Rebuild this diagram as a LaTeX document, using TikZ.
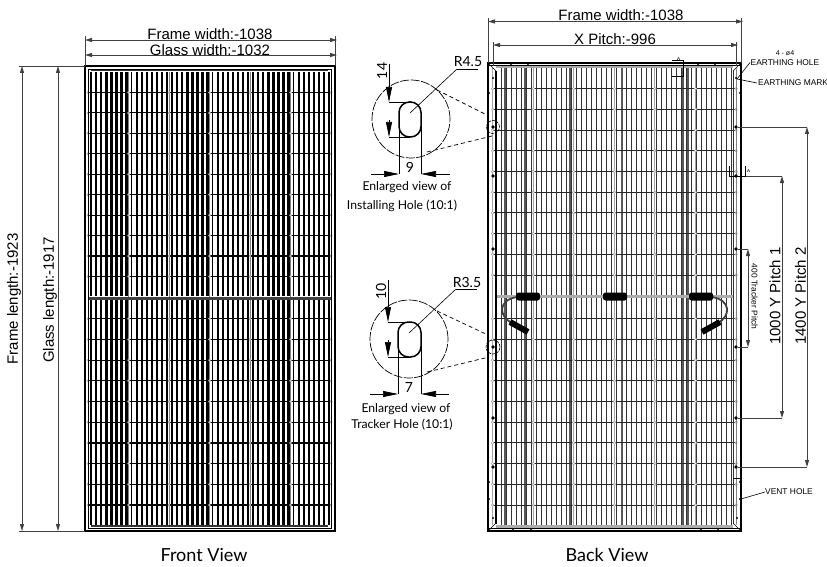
\documentclass[tikz,border=0pt]{standalone}
\usepackage{fontspec}
\setmainfont{Liberation Sans}
\newfontfamily\viewfont{Lato}
\usetikzlibrary{arrows.meta,calc}
\begin{document}
\begin{tikzpicture}[x=1pt,y=-1pt,
dim/.style={line width=0.9pt,black!75,-{Stealth[length=7pt,width=4pt,inset=0pt]}},
dimtwo/.style={line width=0.9pt,black!75,{Stealth[length=7pt,width=4pt,inset=0pt]}-{Stealth[length=7pt,width=4pt,inset=0pt]}},
ext/.style={line width=0.9pt,black!75},
thin line/.style={line width=0.6pt},
big tip/.style={line width=0.7pt,-{Stealth[length=15pt,width=6pt,inset=0pt]}},
txt/.style={inner sep=0pt,font=\fontsize{15}{15}\selectfont},
small txt/.style={inner sep=0pt,anchor=west,font=\fontsize{8.4}{9}\selectfont},
view txt/.style={inner sep=0pt,anchor=base,font=\viewfont\fontsize{18}{18}\selectfont},
note txt/.style={inner sep=0pt,font=\viewfont\fontsize{12.2}{13}\selectfont},
num txt/.style={inner sep=0pt,font=\viewfont\fontsize{14}{14}\selectfont},
hole/.style={circle,fill,inner sep=0pt,minimum size=3.6pt},
knot/.style={circle,draw=gray!70,line width=0.5pt,fill=white,inner sep=0pt,minimum size=2.6pt},
jbox/.style={rounded corners=2.5pt,fill=black,minimum width=24pt,minimum height=8pt,inner sep=0pt},
slot/.style={rounded corners=10.5pt,line width=1.5pt},
zoomring/.style={circle,draw,dashed,dash pattern=on 9pt off 1.5pt,line width=0.7pt,inner sep=0pt},
smallring/.style={circle,draw,dashed,dash pattern=on 3pt off 1pt,line width=0.6pt,inner sep=0pt},
zoomline/.style={dashed,dash pattern=on 4pt off 3pt,line width=0.7pt}]
\useasboundingbox (0,0) rectangle (827,567);

% front view
\foreach \k in {0,...,5}{
  \pgfmathsetmacro{\xo}{88+40.5*\k}
  \pgfmathsetmacro{\wd}{mod(\k,2)==0 ? 2.7 : 1.9}
  \foreach \i in {0,...,7}{
    \draw[line width=\wd pt] (\xo+3+5.05*\i,72) -- (\xo+3+5.05*\i,296);
    \draw[line width=\wd pt] (\xo+3+5.05*\i,300) -- (\xo+3+5.05*\i,525);
  }
}
\foreach \j in {1,...,10}{
  \draw[line width=1.2pt] (88,72+20.45*\j) -- (331,72+20.45*\j);
  \draw[line width=1.2pt] (88,298+20.7*\j) -- (331,298+20.7*\j);
}
\foreach \k in {0,...,6}{
  \draw[line width=0.7pt,gray] (88+40.5*\k,72) -- (88+40.5*\k,525);
  \foreach \j in {1,...,10}{
    \node[knot,minimum size=2pt] (fa\k\j) at (88+40.5*\k,72+20.45*\j) {};
    \node[knot,minimum size=2pt] (fb\k\j) at (88+40.5*\k,298+20.7*\j) {};
  }
}
\draw[line width=2pt,black!80] (91,70.5) -- (328,70.5);
\draw[line width=2pt,black!80] (91,526) -- (328,526);
\draw[line width=3pt,black!75] (88,298) -- (331,298);
\draw[line width=1.3pt] (85,66) rectangle (335,531);
\draw[line width=0.6pt] (88,69) rectangle (331,528);

\coordinate (fl) at (85,40);
\coordinate (fr) at (337,40);
\coordinate (gl) at (85,55);
\coordinate (gr) at (337,55);
\coordinate (ft) at (85,36);
\coordinate (ftr) at (335,36);
\coordinate (fb) at (85,66);
\coordinate (fbr) at (335,66);
\coordinate (hl) at (19,66);
\coordinate (hr) at (85,66);
\coordinate (il) at (19,531);
\coordinate (ir) at (85,531);
\coordinate (a1) at (22,66);
\coordinate (a2) at (22,531);
\coordinate (b1) at (58,66);
\coordinate (b2) at (58,531);
\path[ext] (hl) edge (hr) (il) edge (ir) (ft) edge (fb) (ftr) edge (fbr);
\path[dimtwo] (fl) edge (fr) (gl) edge (gr) (a1) edge (a2) (b1) edge (b2);
\node[txt] (t1) at (210,34.5) {Frame width:-1038};
\node[txt] (t2) at (210,50) {Glass width:-1032};
\node[txt,rotate=90] (t3) at (14,299) {Frame length:-1923};
\node[txt,rotate=90] (t4) at (50,300) {Glass length:-1917};
\node[view txt] (t5) at (204,561) {Front View};

% back view
\foreach \i in {0,...,46}{
  \draw[line width=0.75pt,black!80] (501+5*\i,68) -- (501+5*\i,525);
}
\foreach \x in {505,525,570,622,683,688}{
  \draw[line width=1.3pt,black!65] (\x,68) -- (\x,525);
}
\foreach \j in {1,...,10}{
  \draw[line width=1pt,black!85] (493,68+20.7*\j) -- (736,68+20.7*\j);
  \draw[line width=1pt,black!85] (493,298+20.7*\j) -- (736,298+20.7*\j);
}
\foreach \k in {0,...,6}{
  \pgfmathsetmacro{\xo}{492.5+40.6*\k}
  \draw[line width=1pt,gray!70] (\xo,68) -- (\xo,525);
  \foreach \j in {1,...,10}{
    \node[knot] (ba\k\j) at (\xo,68+20.7*\j) {};
    \node[knot] (bb\k\j) at (\xo,298+20.7*\j) {};
  }
}
\draw[line width=3pt,gray!65] (496,67) -- (733,67);
\draw[line width=3pt,gray!65] (496,526) -- (733,526);
\draw[line width=3.5pt,gray!65] (497,296.5) -- (733,296.5);
\draw[line width=1.4pt] (488,63) rectangle (741,531);
\draw[line width=1.2pt] (496,71) -- (496,524);
\draw[line width=1.5pt,black!80] (733.5,71) -- (733.5,524);
\draw[thin line] (488,65.5) -- (741,65.5);
\draw[thin line] (488,528) -- (741,528);
\draw[thin line,gray] (736.5,70) -- (736.5,524);
\draw[thin line] (488,63) -- (496,71);
\draw[thin line] (741,63) -- (733,71);
\draw[thin line] (488,531) -- (496,523);
\draw[thin line] (741,531) -- (733,523);

% cables
\draw[line width=1.8pt,black!75] (517,297) .. controls (498,300) and (498,316) .. (512,323);
\draw[line width=1.8pt,black!75] (712,297) .. controls (731,300) and (731,316) .. (718,323);
\draw[line width=6pt] (510,322) -- (528,332);
\draw[line width=6pt] (720,322) -- (702,332);
\node[jbox] (j1) at (528,296.5) {};
\node[jbox] (j2) at (615,296.5) {};
\node[jbox] (j3) at (701,296.5) {};

% holes
\foreach \y [count=\n] in {127,176,249,347,418,467}{
  \node[hole] (r\n) at (736,\y) {};
  \node[hole] (l\n) at (493,\y) {};
}
\foreach \x/\y [count=\n] in {511/64,528/64,698/64,715/64,513/530,531/530,701/530,718/530,489/93,740/93,489/482,489/499,740/482,740/499,493/78,493/518,736/78,737/518}{
  \node[hole,minimum size=2.4pt] (d\n) at (\x,\y) {};
}

% dimensions of back view
\coordinate (m1) at (488,21.5);
\coordinate (m2) at (743,21.5);
\coordinate (m3) at (493,45);
\coordinate (m4) at (738,45);
\coordinate (e1) at (488,18);
\coordinate (e2) at (488,63);
\coordinate (e3) at (741,18);
\coordinate (e4) at (741,63);
\coordinate (e5) at (493,42);
\coordinate (e6) at (493,66);
\coordinate (e7) at (736.5,42);
\coordinate (e8) at (736.5,66);
\path[ext] (e1) edge (e2) (e3) edge (e4) (e5) edge (e6) (e7) edge (e8);
\path[dimtwo] (m1) edge (m2) (m3) edge (m4);
\node[txt] (t6) at (621,15) {Frame width:-1038};
\node[txt] (t7) at (615,39.5) {X Pitch:-996};

\coordinate (p1) at (807,127);
\coordinate (p2) at (807,467);
\coordinate (q1) at (782,176);
\coordinate (q2) at (782,418);
\coordinate (s1) at (748,249);
\coordinate (s2) at (748,347);
\path[ext] (r1) edge (p1) (r6) edge (p2) (r2) edge (q1) (r5) edge (q2) (r3) edge (s1) (r4) edge (s2);
\path[dimtwo] (p1) edge (p2) (q1) edge (q2) (s1) edge (s2);
\node[txt,rotate=90] (t8) at (800.5,296) {1400 Y Pitch 2};
\node[txt,rotate=90] (t9) at (775,296) {1000 Y Pitch 1};
\node[inner sep=0pt,rotate=-90,font=\fontsize{8.4}{9}\selectfont] (t10) at (754.5,296.5) {400 Tracker Pitch};

% section marks
\draw[thin line] (672,60) -- (683,60) -- (683,76) -- (672,76);
\draw[thin line] (729,166) -- (729,176) -- (745,176) -- (745,166);
\draw[line width=0.4pt] (677,60) -- (678.5,57.5) -- (680,60);
\draw[line width=0.4pt] (747,172) -- (748.5,169.5) -- (750,172);
\draw[thin line] (733,478) -- (741,478);

% earthing and vent labels
\coordinate (c1) at (737,79);
\coordinate (c2) at (750,62.5);
\coordinate (c3) at (757,83);
\coordinate (c4) at (741,499);
\coordinate (c5) at (765,492);
\path[thin line] (c1) edge (c2) (c1) edge (c3) (c4) edge (c5);
\node[inner sep=0pt,font=\fontsize{7}{8}\selectfont] (t11) at (785,53) {4 - ø4};
\node[small txt] (t12) at (750.5,63) {EARTHING HOLE};
\node[small txt] (t13) at (758,83) {EARTHING MARK};
\node[small txt] (t14) at (765,492) {VENT HOLE};
\node[view txt] (t15) at (607,561) {Back View};

% detail of installing hole
\node[zoomring,minimum size=78pt] (z1) at (411,119) {};
\node[smallring,minimum size=13pt] (z2) at (493,127) {};
\coordinate (k1) at (437,90);
\coordinate (k2) at (489,116);
\coordinate (k3) at (427,152);
\coordinate (k4) at (496,135);
\path[zoomline] (k1) edge (k2) (k3) edge (k4);
\draw[slot] (399,102) rectangle (421,137);
\coordinate (u1) at (389,64);
\coordinate (u2) at (389,102);
\coordinate (u3) at (389,120);
\coordinate (u4) at (389,137);
\coordinate (u5) at (410,102);
\coordinate (u6) at (410,137);
\path[thin line] (u2) edge (u5) (u4) edge (u6);
\path[big tip] (u1) edge (u2) (u3) edge (u4);
\coordinate (v1) at (371,174);
\coordinate (v2) at (399,174);
\coordinate (v3) at (450,174);
\coordinate (v4) at (421,174);
\coordinate (v5) at (399,125);
\coordinate (v6) at (421,125);
\path[thin line] (v5) edge (v2) (v6) edge (v4);
\path[big tip] (v1) edge (v2) (v3) edge (v4);
\coordinate (w1) at (478,69);
\coordinate (w2) at (457,69);
\coordinate (w3) at (410,113);
\path[thin line] (w1) edge (w2) (w2) edge (w3);
\node[num txt,rotate=90] (n1) at (382,71) {14};
\node[num txt] (n2) at (410,167) {9};
\node[num txt] (n3) at (468,62) {R4.5};
\node[note txt] (n4) at (407,187) {Enlarged view of};
\node[note txt] (n5) at (402,206) {Installing Hole (10:1)};

% detail of tracker hole
\node[zoomring,minimum size=78pt] (z3) at (409,339) {};
\node[smallring,minimum size=14pt] (z4) at (493,347) {};
\coordinate (k5) at (437,311);
\coordinate (k6) at (488,335);
\coordinate (k7) at (427,372);
\coordinate (k8) at (489,357);
\path[zoomline] (k5) edge (k6) (k7) edge (k8);
\draw[slot] (398,322) rectangle (421,357);
\coordinate (u7) at (388,280);
\coordinate (u8) at (388,322);
\coordinate (u9) at (388,340);
\coordinate (u10) at (388,357);
\coordinate (u11) at (409,322);
\coordinate (u12) at (409,357);
\path[thin line] (u8) edge (u11) (u10) edge (u12);
\path[big tip] (u7) edge (u8) (u9) edge (u10);
\coordinate (v7) at (370,394);
\coordinate (v8) at (398,394);
\coordinate (v9) at (449,394);
\coordinate (v10) at (421,394);
\coordinate (v11) at (398,345);
\coordinate (v12) at (421,345);
\path[thin line] (v11) edge (v8) (v12) edge (v10);
\path[big tip] (v7) edge (v8) (v9) edge (v10);
\coordinate (w4) at (477,289);
\coordinate (w5) at (456,289);
\coordinate (w6) at (409,333);
\path[thin line] (w4) edge (w5) (w5) edge (w6);
\node[num txt,rotate=90] (n6) at (381,291) {10};
\node[num txt] (n7) at (409,387) {7};
\node[num txt] (n8) at (467,282) {R3.5};
\node[note txt] (n9) at (406,409) {Enlarged view of};
\node[note txt] (n10) at (402,425) {Tracker Hole (10:1)};
\end{tikzpicture}
\end{document}
